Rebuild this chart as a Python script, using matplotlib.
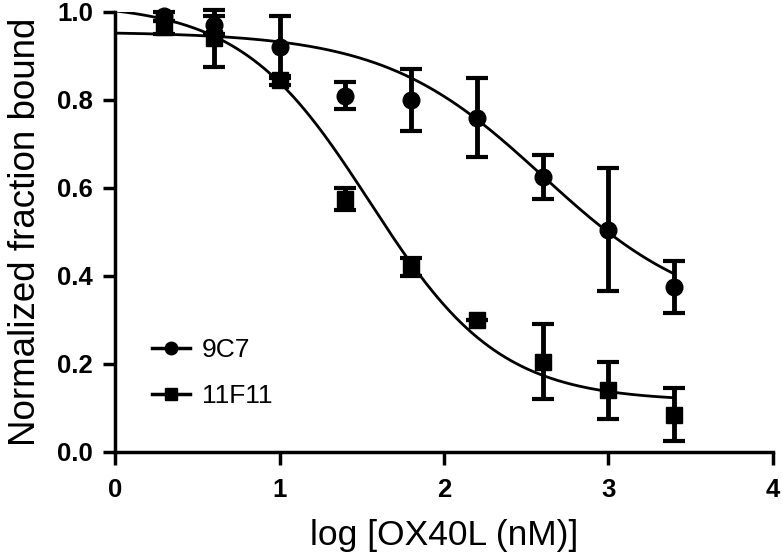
import numpy as np
import matplotlib
matplotlib.use('Agg')
import matplotlib.pyplot as plt

# log concentration of OX40L
log_conc = [0.3, 0.6, 1.0, 1.4, 1.8, 2.2, 2.6, 3.0, 3.4]

# 9C7 (circles)
c9_mean = [0.99, 0.97, 0.92, 0.81, 0.80, 0.76, 0.625, 0.505, 0.375]
c9_err = [0.01, 0.02, 0.07, 0.03, 0.07, 0.09, 0.05, 0.14, 0.06]

# 11F11 (squares)
f11_mean = [0.965, 0.94, 0.845, 0.575, 0.42, 0.30, 0.205, 0.14, 0.085]
f11_err = [0.015, 0.065, 0.01, 0.025, 0.02, 0.0, 0.085, 0.065, 0.06]

# fitted sigmoid parameters: top, bottom, logIC50, hill slope
c9_fit = [0.955, 0.30, 2.6, 0.9]
f11_fit = [1.02, 0.115, 1.55, 1.1]


def sigmoid(x, top, bottom, logic50, hill):
    return bottom + (top - bottom) / (1 + 10 ** ((x - logic50) * hill))


plt.rcParams['font.family'] = ['Liberation Sans', 'DejaVu Sans']

fig = plt.figure(figsize=(7.83, 5.58), dpi=100)
ax = fig.add_axes([0.147, 0.19, 0.84, 0.7885])

xs = np.linspace(0, 3.4, 300)
ax.plot(xs, sigmoid(xs, *c9_fit), color='black', lw=2)
ax.plot(xs, sigmoid(xs, *f11_fit), color='black', lw=2)

e1 = ax.errorbar(log_conc, c9_mean, yerr=c9_err, fmt='o', color='black', ms=12,
                 elinewidth=3.5, capsize=8, capthick=3, clip_on=False)
e2 = ax.errorbar(log_conc, f11_mean, yerr=f11_err, fmt='s', color='black', ms=11,
                 elinewidth=3.5, capsize=8, capthick=3, clip_on=False)
for e in (e1, e2):
    for artist in e.lines[1] + e.lines[2]:
        artist.set_clip_on(False)

# legend handles: line with marker
h1, = ax.plot([], [], '-o', color='black', lw=2.5, ms=9)
h2, = ax.plot([], [], '-s', color='black', lw=2.5, ms=9)
ax.legend([h1, h2], ['9C7', '11F11'], loc='lower left', bbox_to_anchor=(0.02, 0.045),
          frameon=False, fontsize=19, handlelength=1.45, handletextpad=0.45,
          labelspacing=0.85)

ax.set_xlim(0, 4)
ax.set_ylim(0, 1.0)
ax.set_xticks([0, 1, 2, 3, 4])
ax.set_yticks([0.0, 0.2, 0.4, 0.6, 0.8, 1.0])
ax.set_yticklabels(['0.0', '0.2', '0.4', '0.6', '0.8', '1.0'])

for s in ['top', 'right']:
    ax.spines[s].set_visible(False)
for s in ['left', 'bottom']:
    ax.spines[s].set_linewidth(2.5)
ax.tick_params(width=2.5, length=9, direction='out', labelsize=18.5)
ax.tick_params(axis='x', pad=10)
ax.tick_params(axis='y', pad=7)
for lbl in ax.get_xticklabels() + ax.get_yticklabels():
    lbl.set_fontweight('bold')

ax.set_xlabel('log [OX40L (nM)]', fontsize=25.5, labelpad=12)
ax.set_ylabel('Normalized fraction bound', fontsize=26.5, labelpad=10)

fig.savefig('out.png', dpi=100)
